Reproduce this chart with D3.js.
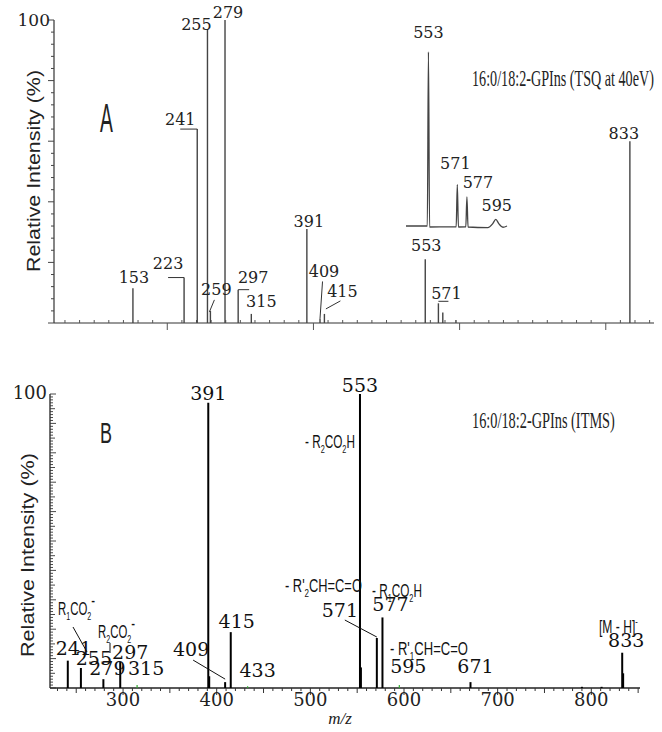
<!DOCTYPE html>
<html><head><meta charset="utf-8">
<script src="https://cdn.jsdelivr.net/npm/d3@7"></script>
<style>body{margin:0;background:#fff}</style>
</head><body>
<svg id="c" width="662" height="732" xmlns="http://www.w3.org/2000/svg"></svg>
<script>
// ---------- DATA ----------
// Panel A: TSQ at 40 eV
const peaksA_mz  = [153, 223, 241, 255, 259, 279, 297, 315, 391, 409, 415, 553, 571, 577, 595, 833];
const peaksA_int = [11.5, 15, 64, 97, 4, 100, 11, 3, 31, 1.5, 3, 21, 6.5, 3.5, 1, 60];
// Panel A inset (expanded 540-600 region)
const insetA_mz  = [553, 571, 577, 595];
const insetA_int = [21, 5, 3.5, 0.8];
// Panel B: ITMS
const peaksB_mz  = [241, 255, 279, 297, 315, 391, 392, 409, 415, 433, 553, 554, 571, 577, 595, 671, 790, 811, 833, 834];
const peaksB_int = [9.3, 6.8, 3, 9, 1, 97, 4, 2, 19, 0.6, 100, 7, 17, 24, 1, 2, 0.4, 0.4, 12, 5];
const minorGreenB = [315, 433, 595];
const tickLabelsA_y = ["100"];
const tickLabelsB_y = ["100"];
const tickValuesB_x = [300, 400, 500, 600, 700, 800];

// ---------- SETUP ----------
const svg = d3.select("#c");
const serif = "'DejaVu Serif', serif";
const sans = "'Liberation Sans', Arial, sans-serif";
const tserif = "'Liberation Serif', 'Times New Roman', serif";

function fitText(sel, w) {
  const bb = sel.node().getBBox();
  const sx = w / bb.width;
  sel.attr("transform", sel.attr("data-t") + ` scale(${sx},1)`);
}
function squeezed(parent, x, y, txt, family, size, width) {
  const g = parent.append("g").attr("data-t", `translate(${x},${y})`).attr("transform", `translate(${x},${y})`);
  g.append("text").attr("font-family", family).attr("font-size", size).attr("fill", "#222").text(txt);
  fitText(g, width);
  return g;
}
function rich(parent, x, y, parts, size, width) {
  const g = parent.append("g").attr("data-t", `translate(${x},${y})`).attr("transform", `translate(${x},${y})`);
  const t = g.append("text").attr("font-family", sans).attr("font-size", size).attr("fill", "#111");
  parts.forEach(p => {
    const ts = t.append("tspan").text(p[0]);
    if (p[1] === "sub") ts.attr("font-size", size * 0.62).attr("dy", size * 0.3);
    else if (p[1] === "sup") ts.attr("font-size", size * 0.62).attr("dy", -size * 0.45);
    if (p[2]) ts.attr("dy", p[2]);
  });
  fitText(g, width);
  return g;
}

// ================= PANEL A =================
const xA = d3.scaleLinear().domain([45, 866]).range([54, 654]);
const yA = d3.scaleLinear().domain([0, 100]).range([323, 20]);
const gA = svg.append("g");

gA.append("line").attr("x1", 54).attr("x2", 54).attr("y1", yA(100)).attr("y2", yA(0)).attr("stroke", "#333").attr("stroke-width", 1.2);
gA.append("line").attr("x1", xA(45)).attr("x2", xA(866)).attr("y1", yA(0)).attr("y2", yA(0)).attr("stroke", "#333").attr("stroke-width", 1.2);
d3.range(0, 101, 4).forEach(v => {
  const major = v % 20 === 0;
  gA.append("line").attr("x1", 54).attr("x2", major ? 48 : 51).attr("y1", yA(v)).attr("y2", yA(v)).attr("stroke", "#444").attr("stroke-width", 1);
});
gA.append("text").attr("x", 50).attr("y", yA(100) + 6).attr("text-anchor", "end").attr("font-family", serif).attr("font-size", 17).attr("fill", "#222").text(tickLabelsA_y[0]);
d3.range(60, 866, 20).forEach(v => {
  const major = v % 200 === 0;
  gA.append("line").attr("x1", xA(v)).attr("x2", xA(v)).attr("y1", yA(0)).attr("y2", major ? yA(0) + 7 : yA(0) - 3).attr("stroke", "#555").attr("stroke-width", 1);
});
peaksA_mz.forEach((m, i) => {
  gA.append("line").attr("x1", xA(m)).attr("x2", xA(m)).attr("y1", yA(0)).attr("y2", yA(peaksA_int[i])).attr("stroke", "#444").attr("stroke-width", 1.4);
});
// inset
const xI = d3.scaleLinear().domain([539, 602]).range([406, 507]);
const yI = d3.scaleLinear().domain([0, 21]).range([226, 52]);
const insetPts = [[539, 0]];
insetA_mz.forEach((m, i) => {
  const h = insetA_int[i];
  if (m === 595) {
    insetPts.push([590, -0.2], [593, 0.25], [595, h], [597, 0.25], [599.5, -0.15], [602, 0]);
  } else {
    insetPts.push([m - 0.7, i === 0 ? 0 : -0.1], [m, h], [m + 0.7, -0.12]);
  }
});
gA.append("path").attr("d", d3.line().curve(d3.curveMonotoneX).x(d => xI(d[0])).y(d => yI(d[1]))(insetPts)).attr("fill", "none").attr("stroke", "#444").attr("stroke-width", 1.3);

function labA(txt, x, y) {
  gA.append("text").attr("x", x).attr("y", y).attr("text-anchor", "middle").attr("font-family", serif).attr("font-size", 16).attr("fill", "#222").text(txt);
}
function lineA(x1, y1, x2, y2) {
  gA.append("line").attr("x1", x1).attr("y1", y1).attr("x2", x2).attr("y2", y2).attr("stroke", "#333").attr("stroke-width", 1);
}
const pA = m => [xA(m), yA(peaksA_int[peaksA_mz.indexOf(m)])];
let p;
p = pA(153); labA("153", p[0] + 1, p[1] - 5);
p = pA(223); labA("223", p[0] - 16, p[1] - 9); lineA(p[0] - 16, p[1], p[0], p[1]);
p = pA(241); labA("241", p[0] - 17, p[1] - 4); lineA(p[0] - 17, p[1], p[0], p[1]);
p = pA(255); labA("255", p[0] - 11, p[1] + 1);
p = pA(279); labA("279", p[0] + 3, p[1] - 2);
p = pA(259); labA("259", p[0] + 6, p[1] - 16); lineA(p[0] - 1, p[1] + 1, p[0] + 4, p[1] - 11);
p = pA(297); labA("297", p[0] + 15, p[1] - 7); lineA(p[0], p[1], p[0] + 11, p[1]);
p = pA(315); labA("315", p[0] + 10, p[1] - 7);
p = pA(391); labA("391", p[0] + 2, p[1] - 2);
p = pA(409); labA("409", p[0] + 4, p[1] - 41); lineA(p[0] + 2.5, p[1] - 37, p[0], p[1]);
p = pA(415); labA("415", p[0] + 18, p[1] - 17); lineA(p[0] + 1.5, p[1] - 5, p[0] + 16, p[1] - 13);
p = pA(553); labA("553", p[0] + 1, p[1] - 8);
p = pA(571); labA("571", p[0] + 8, p[1] - 4); lineA(p[0], p[1] - 2, p[0] + 10, p[1] - 2);
p = pA(833); labA("833", p[0] - 6, p[1] - 2);
labA("553", xI(553), yI(21) - 14);
labA("571", xI(571) - 2, yI(5) - 16);
labA("577", xI(577) + 11, yI(3.5) - 9);
labA("595", xI(595) + 1, yI(0.8) - 8);

squeezed(gA, 472, 86, "16:0/18:2-GPIns (TSQ at 40eV)", tserif, 24, 182);
squeezed(gA, 100, 132, "A", sans, 40, 13);
gA.append("text").attr("transform", "translate(40,171) rotate(-90)").attr("text-anchor", "middle").attr("font-family", sans).attr("font-size", 18).attr("fill", "#222")
  .attr("textLength", 202).attr("lengthAdjust", "spacingAndGlyphs").text("Relative Intensity (%)");

// ================= PANEL B =================
const xB = d3.scaleLinear().domain([222, 852]).range([50, 640]);
const yB = d3.scaleLinear().domain([0, 100]).range([688, 394]);
const gB = svg.append("g");

gB.append("line").attr("x1", 50).attr("x2", 50).attr("y1", yB(100)).attr("y2", yB(0)).attr("stroke", "#222").attr("stroke-width", 1.3);
gB.append("line").attr("x1", xB(222)).attr("x2", xB(852)).attr("y1", yB(0)).attr("y2", yB(0)).attr("stroke", "#222").attr("stroke-width", 1.5);
d3.range(0, 101, 1).forEach(v => {
  const len = v % 10 === 0 ? 6 : (v % 5 === 0 ? 5 : 3);
  gB.append("line").attr("x1", 50).attr("x2", 50 + len).attr("y1", yB(v)).attr("y2", yB(v)).attr("stroke", "#333").attr("stroke-width", 0.9);
});
gB.append("text").attr("x", 47).attr("y", yB(100) + 5).attr("text-anchor", "end").attr("font-family", serif).attr("font-size", 18).attr("fill", "#222").text(tickLabelsB_y[0]);
d3.range(230, 852, 10).forEach(v => {
  const len = v % 100 === 0 ? 7 : (v % 50 === 0 ? 5 : 3);
  gB.append("line").attr("x1", xB(v)).attr("x2", xB(v)).attr("y1", yB(0)).attr("y2", yB(0) + len).attr("stroke", "#333").attr("stroke-width", 1);
});
tickValuesB_x.forEach(v => {
  gB.append("text").attr("x", xB(v)).attr("y", 706).attr("text-anchor", "middle").attr("font-family", serif).attr("font-size", 18).attr("fill", "#222").text(v);
});
gB.append("text").attr("x", 340).attr("y", 724).attr("text-anchor", "middle").attr("font-family", tserif).attr("font-style", "italic").attr("font-size", 17).attr("fill", "#222").text("m/z");

peaksB_mz.forEach((m, i) => {
  const green = minorGreenB.includes(m);
  gB.append("line").attr("x1", xB(m)).attr("x2", xB(m)).attr("y1", yB(0)).attr("y2", yB(peaksB_int[i]))
    .attr("stroke", green ? "#3a3" : "#000").attr("stroke-width", green ? 1.2 : 2);
});

function labB(txt, x, y) {
  gB.append("text").attr("x", x).attr("y", y).attr("text-anchor", "middle").attr("font-family", serif).attr("font-size", 19).attr("fill", "#111").text(txt);
}
function lineB(x1, y1, x2, y2) {
  gB.append("line").attr("x1", x1).attr("y1", y1).attr("x2", x2).attr("y2", y2).attr("stroke", "#111").attr("stroke-width", 1);
}
const pB = m => [xB(m), yB(peaksB_int[peaksB_mz.indexOf(m)])];
p = pB(241); labB("241", p[0] + 6, p[1] - 6);
p = pB(255); labB("255", p[0] + 13, p[1] - 3);
p = pB(279); labB("279", p[0] + 4, p[1] - 4);
p = pB(297); labB("297", p[0] + 10, p[1] - 3);
p = pB(315); labB("315", p[0] + 9, p[1] - 10);
p = pB(391); labB("391", p[0], p[1] - 3);
p = pB(409); labB("409", p[0] - 34, p[1] - 26); lineB(p[0] - 32, p[1] - 22, p[0], p[1] - 3);
p = pB(415); labB("415", p[0] + 6, p[1] - 4);
p = pB(433); labB("433", p[0] + 10, p[1] - 9);
p = pB(553); labB("553", p[0], p[1] - 2);
p = pB(571); labB("571", p[0] - 37, p[1] - 21); lineB(p[0] - 32, p[1] - 18, p[0], p[1] - 1);
p = pB(577); labB("577", p[0] + 8, p[1] - 6);
p = pB(595); labB("595", p[0] + 9, p[1] - 12);
p = pB(671); labB("671", p[0] + 5, p[1] - 9);
p = pB(833); labB("833", p[0] + 4, p[1] - 6);

const s = 18;
rich(gB, 305, 448, [["- R"], ["2", "sub"], ["C", null, -s*0.3], ["O"], ["2", "sub"], ["H", null, -s*0.3]], s, 50);
rich(gB, 285, 592, [["- R'"], ["2", "sub"], ["CH=C=O", null, -s*0.3]], s, 77);
rich(gB, 372, 597, [["- R"], ["1", "sub"], ["C", null, -s*0.3], ["O"], ["2", "sub"], ["H", null, -s*0.3]], s, 50);
rich(gB, 390, 655, [["- R'"], ["1", "sub"], ["CH=C=O", null, -s*0.3]], s, 78);
rich(gB, 58, 615, [["R"], ["1", "sub"], ["CO", null, -s*0.3], ["2", "sub"], ["-", null, -s*0.75]], s, 37);
rich(gB, 98, 638, [["R"], ["2", "sub"], ["CO", null, -s*0.3], ["2", "sub"], ["-", null, -s*0.75]], s, 37);
rich(gB, 599, 633, [["[M - H]"], ["-", "sup"]], s, 39);
lineB(73, 627, 87, 652);
lineB(110, 643, 110, 653);

squeezed(gB, 472, 428, "16:0/18:2-GPIns (ITMS)", tserif, 24, 143);
squeezed(gB, 100, 443, "B", sans, 30, 12);
gB.append("text").attr("transform", "translate(34,555) rotate(-90)").attr("text-anchor", "middle").attr("font-family", sans).attr("font-size", 18).attr("fill", "#222")
  .attr("textLength", 204).attr("lengthAdjust", "spacingAndGlyphs").text("Relative Intensity (%)");
</script>
</body></html>
